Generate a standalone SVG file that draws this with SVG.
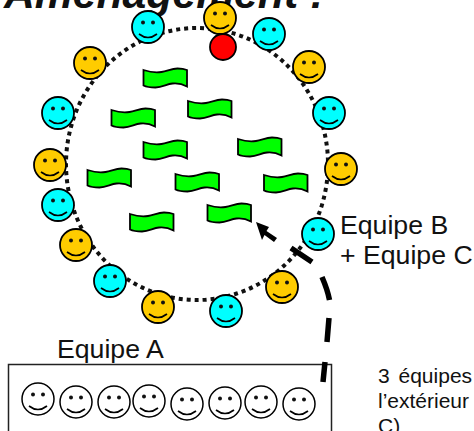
<svg xmlns="http://www.w3.org/2000/svg" width="474" height="431" viewBox="0 0 474 431">
<style>
text{font-family:"Liberation Sans",Arial,sans-serif;fill:#111}
.title{font-size:42.7px;font-weight:bold;font-style:italic}
.lab{font-size:26.67px}
.note{font-size:21px}
.c{stroke:#000;stroke-width:1.8}
.cy{fill:#0ff}.or{fill:#fc0}.wh{fill:#fff;stroke-width:1.5}
.fl{fill:#0f0;stroke:#000;stroke-width:1.8}
</style>
<defs>
<g id="face"><circle cx="-5" cy="-4.500" r="2" fill="#111"/><circle cx="5" cy="-4.500" r="2" fill="#111"/><path d="M-9 7Q0 14 9 7" fill="none" stroke="#000" stroke-width="1.600"/></g>
<path id="flag" d="M0 2C6 4 12 5 18 4C24 3 28 0.500 34 0.500C38 0.500 41 1 43.500 2V18.500C39 16 34 15 29 15.500C23 16 19 19.500 12 19.500C7 19.500 3 19 0 17.500Z"/>
</defs>
<text class="title" x="4" y="8">Aménagement :</text>
<g id="ring">
<ellipse cx="197" cy="164" rx="131" ry="136" fill="none" stroke="#111" stroke-width="4" stroke-dasharray="4 4"/>
</g>
<g id="flags">
<use href="#flag" class="fl" x="143.500" y="68"/>
<use href="#flag" class="fl" x="188" y="99"/>
<use href="#flag" class="fl" x="111.500" y="108"/>
<use href="#flag" class="fl" x="143.500" y="140"/>
<use href="#flag" class="fl" x="87.500" y="168"/>
<use href="#flag" class="fl" x="175.500" y="172"/>
<use href="#flag" class="fl" x="238" y="137"/>
<use href="#flag" class="fl" x="264" y="173"/>
<use href="#flag" class="fl" x="130" y="212"/>
<use href="#flag" class="fl" x="207.500" y="203"/>
</g>
<g id="b1" transform="translate(220 18)"><circle class="c or" r="16"/><use href="#face"/></g>
<g id="b2" transform="translate(148 27)"><circle class="c cy" r="16"/><use href="#face"/></g>
<g id="b3" transform="translate(90 63)"><circle class="c or" r="16"/><use href="#face"/></g>
<g id="b4" transform="translate(58 113)"><circle class="c cy" r="16"/><use href="#face"/></g>
<g id="b5" transform="translate(50 165)"><circle class="c or" r="16"/><use href="#face"/></g>
<g id="b6" transform="translate(58 205)"><circle class="c cy" r="16"/><use href="#face"/></g>
<g id="b7" transform="translate(76 245)"><circle class="c or" r="16"/><use href="#face"/></g>
<g id="b8" transform="translate(110 281)"><circle class="c cy" r="16"/><use href="#face"/></g>
<g id="b9" transform="translate(158 307)"><circle class="c or" r="16"/><use href="#face"/></g>
<g id="b10" transform="translate(226 311)"><circle class="c cy" r="16"/><use href="#face"/></g>
<g id="b11" transform="translate(282 287)"><circle class="c or" r="16"/><use href="#face"/></g>
<g id="b12" transform="translate(318 234)"><circle class="c cy" r="16"/><use href="#face"/></g>
<g id="b13" transform="translate(341 169)"><circle class="c or" r="16"/><use href="#face"/></g>
<g id="b14" transform="translate(329 113)"><circle class="c cy" r="16"/><use href="#face"/></g>
<g id="b15" transform="translate(309 67)"><circle class="c or" r="16"/><use href="#face"/></g>
<g id="b16" transform="translate(269 34)"><circle class="c cy" r="16"/><use href="#face"/></g>
<g id="ball"><circle cx="223" cy="47" r="13" fill="#f00" stroke="#000" stroke-width="1.800"/></g>
<g id="teamA">
<rect x="8.500" y="364.500" width="323" height="80" fill="none" stroke="#222" stroke-width="1.500"/>
<g transform="translate(38 399)"><circle class="c wh" r="16"/><use href="#face"/></g>
<g transform="translate(76 402)"><circle class="c wh" r="16"/><use href="#face"/></g>
<g transform="translate(114 402)"><circle class="c wh" r="16"/><use href="#face"/></g>
<g transform="translate(149 401)"><circle class="c wh" r="16"/><use href="#face"/></g>
<g transform="translate(187 404)"><circle class="c wh" r="16"/><use href="#face"/></g>
<g transform="translate(225 403)"><circle class="c wh" r="16"/><use href="#face"/></g>
<g transform="translate(261 402)"><circle class="c wh" r="16"/><use href="#face"/></g>
<g transform="translate(299 404)"><circle class="c wh" r="16"/><use href="#face"/></g>
</g>
<g id="connectors">
<path d="M323 382L325 362M327 342L329 318M329.500 300C328 292 325 284 322 277M312 262L291 248" fill="none" stroke="#000" stroke-width="5.500"/>
<path d="M256 222L269 227L266.500 231L277 238L274 242L264.500 235L262 240Z" fill="#000"/>
</g>
<text class="lab" x="57" y="358">Equipe A</text>
<text class="lab" x="340" y="234">Equipe B</text>
<text class="lab" x="340" y="264">+ Equipe C</text>
<text class="note" x="378" y="383" word-spacing="3">3 équipes</text>
<text class="note" x="378" y="408">l’extérieur</text>
<text class="note" x="378" y="433">C)</text>
</svg>
